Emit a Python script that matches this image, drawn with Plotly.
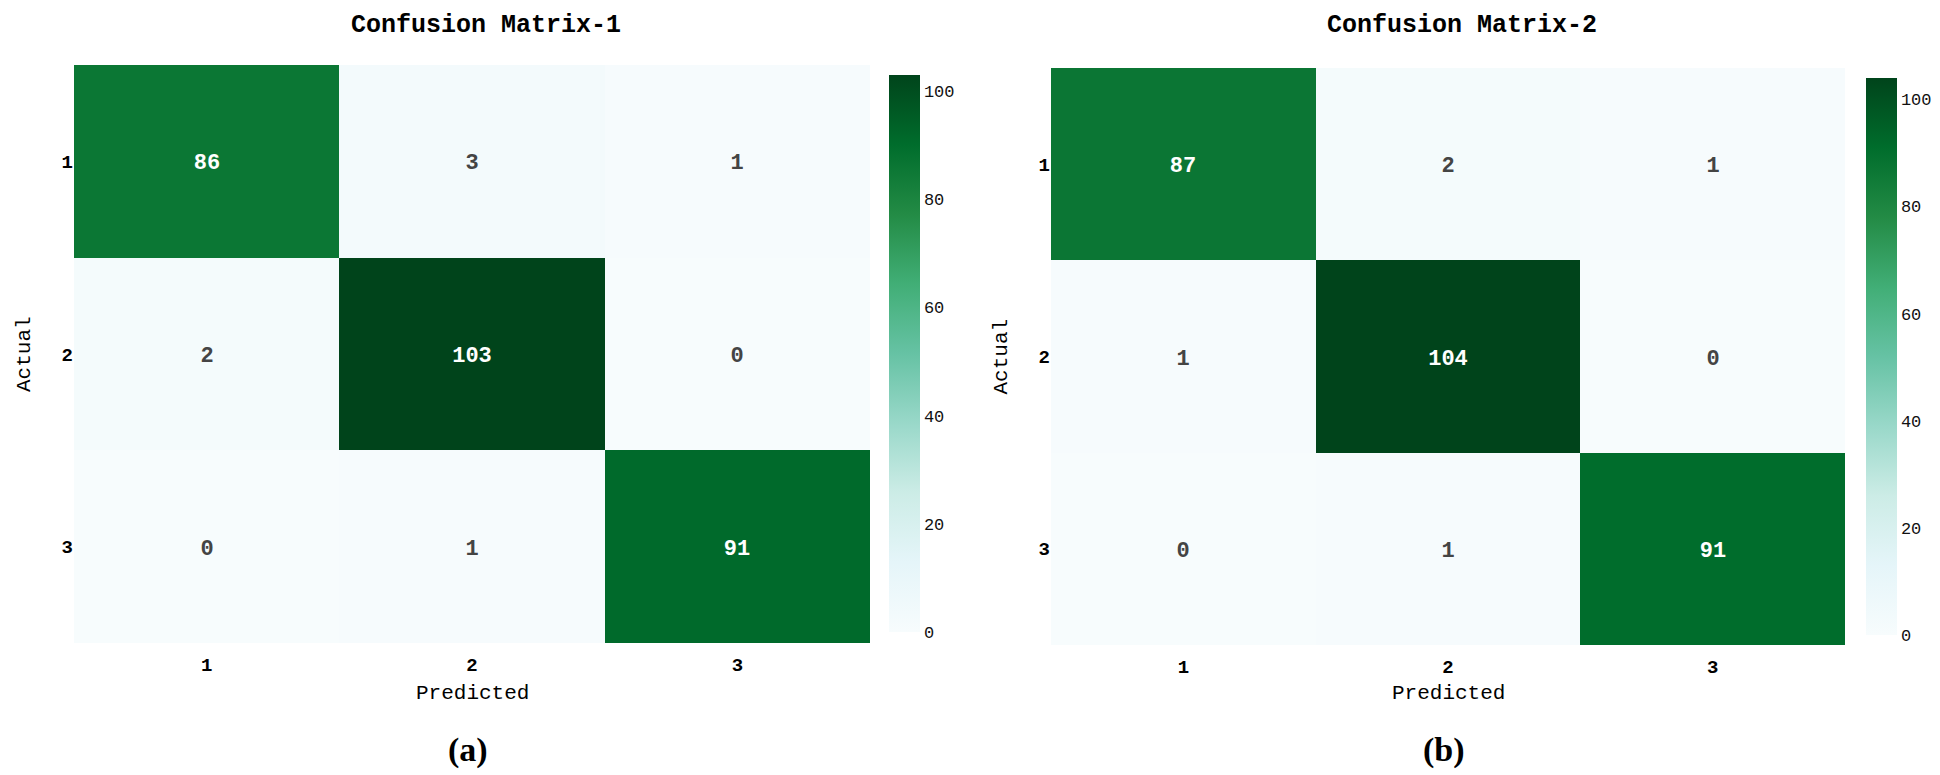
import plotly.graph_objects as go

# ---- data ----
class_labels = ["1", "2", "3"]
cm1 = [[86, 3, 1],
       [2, 103, 0],
       [0, 1, 91]]
cm2 = [[87, 2, 1],
       [1, 104, 0],
       [0, 1, 91]]
titles = ["Confusion Matrix-1", "Confusion Matrix-2"]
panel_tags = ["(a)", "(b)"]
cbar_ticks = [0, 20, 40, 60, 80, 100]

W, H = 1940, 775
def px(x):
    return x / W
def py(y):
    return 1 - y / H

MONO = "Liberation Mono, DejaVu Sans Mono, monospace"

fig = go.Figure()

panels = [
    dict(z=cm1, xa="x", ya="y", xdom=(66, 862), ydom=(57, 635), cbx=881, cby=(67, 624)),
    dict(z=cm2, xa="x2", ya="y2", xdom=(1043, 1837), ydom=(60, 637), cbx=1858, cby=(70, 627)),
]

for i, p in enumerate(panels):
    zmax = max(max(r) for r in p["z"])
    fig.add_trace(go.Heatmap(
        z=p["z"], x=class_labels, y=class_labels,
        xaxis=p["xa"], yaxis=p["ya"],
        colorscale="BuGn", zmin=0, zmax=zmax,
        texttemplate="<b>%{z}</b>",
        textfont=dict(family=MONO, size=22),
        xgap=0, ygap=0,
        colorbar=dict(
            x=px(p["cbx"]), xanchor="left", xpad=0, ypad=0,
            y=py((p["cby"][0] + p["cby"][1]) / 2), yanchor="middle",
            len=p["cby"][1] - p["cby"][0], lenmode="pixels",
            thickness=31, thicknessmode="pixels",
            outlinewidth=0, ticks="",
            tickvals=cbar_ticks,
            tickfont=dict(family=MONO, size=17, color="#111"),
        ),
        hoverongaps=False,
    ))

layout_axes = {}
for i, p in enumerate(panels):
    xk = "xaxis" if i == 0 else "xaxis2"
    yk = "yaxis" if i == 0 else "yaxis2"
    layout_axes[xk] = dict(
        domain=[px(p["xdom"][0]), px(p["xdom"][1])],
        anchor=p["ya"], type="category", showgrid=False, zeroline=False,
        showline=False, ticks="", ticklabelstandoff=8,
        tickfont=dict(family=MONO, size=19, color="black", weight="bold"),
    )
    layout_axes[yk] = dict(
        domain=[py(p["ydom"][1]), py(p["ydom"][0])],
        anchor=p["xa"], type="category", autorange="reversed",
        showgrid=False, zeroline=False, showline=False, ticks="",
        ticklabelstandoff=0,
        tickfont=dict(family=MONO, size=19, color="black", weight="bold"),
    )

annotations = []
for i, p in enumerate(panels):
    cx = (p["xdom"][0] + p["xdom"][1]) / 2
    cy = (p["ydom"][0] + p["ydom"][1]) / 2
    annotations.append(dict(text=titles[i], x=px(cx + 14), y=py(18), xref="paper", yref="paper",
                            showarrow=False, xanchor="center", yanchor="middle",
                            font=dict(family=MONO, size=25, color="black", weight="bold")))
    annotations.append(dict(text="Predicted", x=px(cx), y=py(685), xref="paper", yref="paper",
                            showarrow=False, xanchor="center", yanchor="middle",
                            font=dict(family=MONO, size=21, color="black")))
    annotations.append(dict(text="Actual", x=px(p["xdom"][0] - 50), y=py(cy), xref="paper", yref="paper",
                            showarrow=False, textangle=-90, xanchor="center", yanchor="middle",
                            font=dict(family=MONO, size=21, color="black")))
    annotations.append(dict(text="<b>" + panel_tags[i] + "</b>", x=px(cx - 4), y=py(742),
                            xref="paper", yref="paper",
                            showarrow=False, xanchor="center", yanchor="middle",
                            font=dict(family="Liberation Serif, Times New Roman, serif", size=34, color="black")))

fig.update_layout(
    width=W, height=H,
    margin=dict(l=0, r=0, t=0, b=0),
    paper_bgcolor="white", plot_bgcolor="white",
    showlegend=False,
    annotations=annotations,
    **layout_axes,
)

fig.write_html("out.html")
